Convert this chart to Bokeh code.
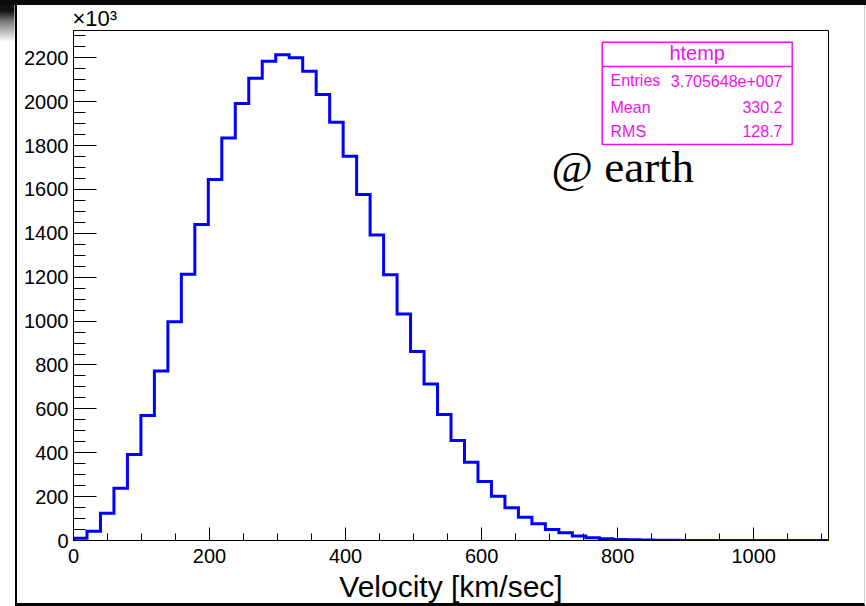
import numpy as np
from bokeh.plotting import figure
from bokeh.models import Range1d, SingleIntervalTicker, Label, InlineStyleSheet
from bokeh.embed import file_html
from bokeh.resources import INLINE

# ---------------- data (counts in units of 10^3) ----------------
x_min, x_max, n_bins = 0, 1110, 56
counts = [10, 42, 124, 238, 392, 570, 773, 997, 1214, 1440,
          1645, 1835, 1992, 2107, 2185, 2214, 2200, 2139, 2033, 1907,
          1752, 1577, 1393, 1211, 1033, 862, 713, 574, 456, 357,
          269, 202, 149, 106, 76, 50, 35, 21, 12, 8,
          5, 3, 2, 1, 1, 0, 0, 0, 0, 0,
          0, 0, 0, 0, 0, 0]
x_tick_interval = 200
y_tick_interval = 200
stats_title = "htemp"
stats_names = ["Entries", "Mean", "RMS"]
stats_values = ["3.705648e+007", "330.2", "128.7"]
x_title = "Velocity [km/sec]"
y_scale_text = "\u00d710\u00b3"
annotation = "@ earth"

# ---------------- layout ----------------
W, H = 866, 606
L, R, T, B = 73, 828, 30, 540
y_max = 1.05 * max(counts)
BASE_SHIFT = 0.35  # renderer's baseline offset, in em


def dx(px):
    return x_min + (px - L) * (x_max - x_min) / (R - L)


def dy(py):
    return (B - py) * y_max / (B - T)


edges = np.linspace(x_min, x_max, n_bins + 1)
xs, ys = [edges[0]], [0]
for i, c in enumerate(counts):
    xs += [edges[i], edges[i + 1]]
    ys += [c, c]
xs.append(edges[-1])
ys.append(0)

FONT = "Liberation Sans"

p = figure(width=W, height=H, output_backend="svg", toolbar_location=None,
           x_range=Range1d(x_min, x_max), y_range=Range1d(0, y_max),
           min_border_left=L, min_border_right=W - R,
           min_border_top=T, min_border_bottom=H - B,
           background_fill_color="white", border_fill_color="white",
           title=y_scale_text)
p.title.text_font = FONT
p.title.text_font_size = "22px"
p.title.text_font_style = "normal"
p.title.text_color = "black"
p.title.align = "left"
p.title.standoff = 0
p.title.offset = -1
p.title.vertical_align = "bottom"

p.grid.visible = False
p.outline_line_color = "black"
p.outline_line_width = 1

for ax, iv in ((p.xaxis[0], x_tick_interval), (p.yaxis[0], y_tick_interval)):
    ax.ticker = SingleIntervalTicker(interval=iv, num_minor_ticks=4)
    ax.major_tick_out = 0
    ax.minor_tick_out = 0
    ax.axis_line_color = "black"
    ax.major_tick_line_color = "black"
    ax.minor_tick_line_color = "black"
    ax.major_label_text_font = FONT
    ax.major_label_text_font_size = "20px"
    ax.major_label_text_color = "black"
p.xaxis.major_tick_in = 13
p.xaxis.minor_tick_in = 7
p.yaxis.major_tick_in = 23
p.yaxis.minor_tick_in = 12
p.xaxis.major_label_standoff = 8
p.yaxis.major_label_standoff = 5

p.xaxis.axis_label = x_title
p.xaxis.axis_label_text_font = FONT
p.xaxis.axis_label_text_font_size = "30px"
p.xaxis.axis_label_text_font_style = "normal"
p.xaxis.axis_label_text_color = "black"
p.xaxis.axis_label_standoff = 4

p.line(xs, ys, line_color="#0000ff", line_width=3, line_join="miter")

MAG = "#ee11ee"


def label(px, baseline_py, text, size, align="left", font=FONT, color=MAG):
    p.add_layout(Label(x=dx(px), y=dy(baseline_py - BASE_SHIFT * size), text=text,
                       text_align=align, text_baseline="alphabetic",
                       text_font=font, text_font_size=f"{size}px",
                       text_color=color))


# stats box
p.quad(left=[dx(601.7)], right=[dx(791.7)], top=[dy(41.7)], bottom=[dy(144)],
       fill_color="white", line_color=MAG, line_width=1.5)
p.segment(x0=[dx(601.7)], x1=[dx(791.7)], y0=[dy(66)], y1=[dy(66)],
          line_color=MAG, line_width=1.5)
label(696.7, 59.5, stats_title, 20, align="center")
for i, (n, v) in enumerate(zip(stats_names, stats_values)):
    yb = [86, 112.5, 136.5][i]
    label(610, yb, n, 16)
    label(782, yb, v, 16, align="right")

# "@ earth"
label(551, 182, annotation, 45, font="Liberation Serif", color="black")

# outer canvas frame decorations (photo border of the original)
css = """
:host { position: relative; }
:host::before {
  content: ""; position: absolute; box-sizing: border-box;
  left: 14.5px; top: 5px; width: 850px; height: 601px;
  border-left: 2px solid #000; border-bottom: 3px solid #000;
  border-right: 1px solid #cccccc;
  pointer-events: none; z-index: 100;
}
:host::after {
  content: ""; position: absolute; left: 0; top: 0;
  width: 866px; height: 42px; pointer-events: none; z-index: 100;
  background:
    linear-gradient(#0a0a0a, #0a0a0a) 0 0 / 866px 5px no-repeat,
    linear-gradient(to bottom, #111 0px, #111 6px, #777 16px, #fff 37px) 0 5px / 14.5px 37px no-repeat;
}
"""
p.stylesheets = [InlineStyleSheet(css=css)]

open("out.html", "w").write(file_html(p, INLINE))
